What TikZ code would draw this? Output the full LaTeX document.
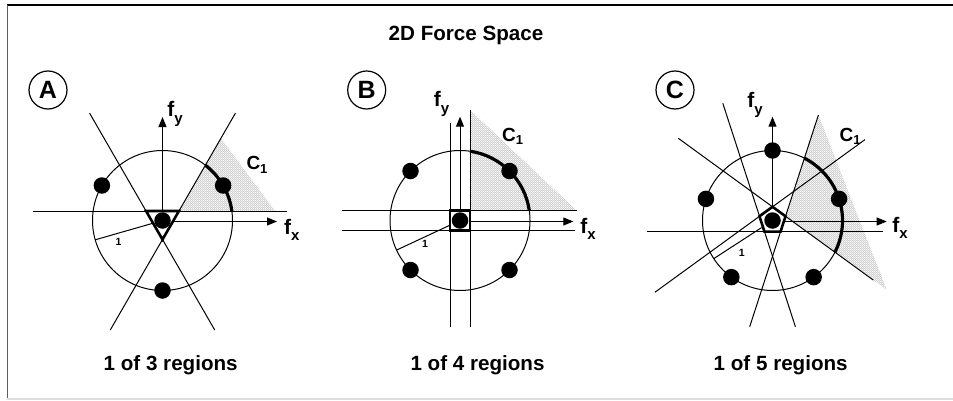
\documentclass[tikz,border=0pt]{standalone}
\usepackage{fontspec}
\setmainfont{Liberation Sans}
\usetikzlibrary{arrows.meta,patterns.meta}
\newcommand{\lowsub}[1]{\raisebox{-6.5pt}{\fontsize{15}{15}\selectfont #1}}
\newcommand{\clowsub}[1]{\raisebox{-3.5pt}{\fontsize{13}{13}\selectfont #1}}
\tikzdeclarepattern{
  name=finehatch, type=uncolored,
  bounding box={(0pt,0pt) and (2.2pt,2.2pt)},
  tile size={(2.2pt,2.2pt)},
  code={\draw[line width=0.55pt] (-0.3pt,2.5pt) -- (2.5pt,-0.3pt);}
}
\tikzset{
  thinln/.style={line width=1pt},
  dot/.style={circle, fill=black, inner sep=0pt, minimum size=16.5pt},
  bigcirc/.style={circle, draw, line width=1pt, inner sep=0pt, minimum size=140pt},
  arcln/.style={line width=3.2pt},
  core/.style={line width=2.6pt, fill=white, line join=miter},
  axis/.style={line width=1pt, -{Triangle[length=10pt,width=8pt]}},
  hatchfill/.style={pattern=finehatch, pattern color=gray!75},
  axlbl/.style={font=\bfseries\fontsize{21}{24}\selectfont, inner sep=0pt},
  clbl/.style={font=\bfseries\fontsize{19}{22}\selectfont, inner sep=0pt},
  onelbl/.style={font=\bfseries\fontsize{10.5}{12}\selectfont, inner sep=0pt},
  panel/.style={circle, draw, line width=1.2pt, minimum size=38pt, inner sep=0pt, font=\bfseries\fontsize{25}{28}\selectfont},
  caption/.style={font=\bfseries\fontsize{20.6}{24}\selectfont, anchor=base, inner sep=0pt},
}
\begin{document}
\begin{tikzpicture}[x=1pt,y=1pt]
\useasboundingbox (0,0) rectangle (953,400);
% frame
\coordinate (fTL) at (7.3,395);
\coordinate (fTR) at (953,395);
\coordinate (fBL) at (7.3,1);
\coordinate (fBR) at (953,1);
\draw[line width=1.5pt] (fTL) -- (fTR);
\draw[line width=1.5pt, gray!75!black] (fTL) -- (fBL);
\draw[line width=1.5pt, gray!25] (fBL) -- (fBR);

\node[caption] (title) at (466,359.3) {2D Force Space};

% ================= Panel A =================
\node[panel] (pA) at (48,310) {A};
\begin{scope}[shift={(162.5,179.5)}]
  \coordinate (aO) at (0,0);
  \coordinate (aV1) at (-16.45,9.5);
  \coordinate (aV2) at (16.45,9.5);
  \coordinate (aV3) at (0,-19);
  \coordinate (aS1) at (58.4,82.2);
  \coordinate (aS2) at (112.5,9.5);
  \fill[hatchfill] (aV2) -- (aS1) -- (aS2) -- cycle;
  \coordinate (aL1a) at (-72.95,107.4); \coordinate (aL1b) at (52.25,-109.5);
  \coordinate (aL2a) at (72.95,107.4);  \coordinate (aL2b) at (-52.25,-109.5);
  \coordinate (aL3a) at (-129.5,9.5);   \coordinate (aL3b) at (124.5,9.5);
  \draw[thinln] (aL1a) -- (aL1b);
  \draw[thinln] (aL2a) -- (aL2b);
  \draw[thinln] (aL3a) -- (aL3b);
  \node[bigcirc] (aC) at (aO) {};
  \coordinate (aYT) at (0,103.5);
  \coordinate (aXS) at (0,-1);
  \coordinate (aXT) at (114.5,-1);
  \draw[axis] (aO) -- (aYT);
  \draw[axis] (aXS) -- (aXT);
  \coordinate (aA1) at (52.2:70);
  \draw[arcln] (aA1) arc[start angle=52.2, end angle=7.8, radius=70];
  \coordinate (aR0) at (196:6);
  \coordinate (aR1) at (196:70);
  \draw[thinln] (aR0) -- (aR1);
  \draw[core] (aV1) -- (aV2) -- (aV3) -- cycle;
  \node[dot] (ad0) at (aO) {};
  \node[dot] (ad1) at (150:70) {};
  \node[dot] (ad2) at (30:70) {};
  \node[dot] (ad3) at (270:70) {};
  \node[onelbl] (a1) at (-44,-21) {1};
  \node[axlbl] (afy) at (12.5,106.5) {f\lowsub{y}};
  \node[axlbl] (afx) at (129.2,-9.5) {f\lowsub{x}};
  \node[clbl] (aC1) at (94.5,55.5) {C\clowsub{1}};
\end{scope}
\node[caption] (capA) at (170.7,29.3) {1 of 3 regions};

% ================= Panel B =================
\node[panel] (pB) at (366.7,310) {B};
\begin{scope}[shift={(460,179.5)}]
  \coordinate (bO) at (0,0);
  \coordinate (bQ1) at (-10,10);
  \coordinate (bQ2) at (10,10);
  \coordinate (bQ3) at (10,-10);
  \coordinate (bQ4) at (-10,-10);
  \coordinate (bS1) at (10,110.5);
  \coordinate (bS2) at (116.5,10);
  \fill[hatchfill] (bQ2) -- (bS1) -- (bS2) -- cycle;
  \coordinate (bL1a) at (-10,97.5);  \coordinate (bL1b) at (-10,-106.5);
  \coordinate (bL2a) at (10,110.5);  \coordinate (bL2b) at (10,-106.5);
  \coordinate (bL3a) at (-118,10);   \coordinate (bL3b) at (116.5,10);
  \coordinate (bL4a) at (-118,-10);  \coordinate (bL4b) at (115,-10);
  \draw[thinln] (bL1a) -- (bL1b);
  \draw[thinln] (bL2a) -- (bL2b);
  \draw[thinln] (bL3a) -- (bL3b);
  \draw[thinln] (bL4a) -- (bL4b);
  \node[bigcirc] (bC) at (bO) {};
  \coordinate (bYT) at (0,103.8);
  \coordinate (bXS) at (0,-1);
  \coordinate (bXT) at (113.3,-1);
  \draw[axis] (bO) -- (bYT);
  \draw[axis] (bXS) -- (bXT);
  \coordinate (bA1) at (81.8:70);
  \draw[arcln] (bA1) arc[start angle=81.8, end angle=8.2, radius=70];
  \coordinate (bR0) at (205:11);
  \coordinate (bR1) at (205:70);
  \draw[thinln] (bR0) -- (bR1);
  \draw[core] (bQ1) -- (bQ2) -- (bQ3) -- (bQ4) -- cycle;
  \node[dot] (bd0) at (bO) {};
  \node[dot] (bd1) at (45:70) {};
  \node[dot] (bd2) at (135:70) {};
  \node[dot] (bd3) at (225:70) {};
  \node[dot] (bd4) at (315:70) {};
  \node[onelbl] (b1) at (-35,-23.8) {1};
  \node[axlbl] (bfy) at (-18.5,116.5) {f\lowsub{y}};
  \node[axlbl] (bfx) at (128,-8.5) {f\lowsub{x}};
  \node[clbl] (bC1) at (52.5,84) {C\clowsub{1}};
\end{scope}
\node[caption] (capB) at (477.5,29.3) {1 of 4 regions};

% ================= Panel C =================
\node[panel] (pC) at (675,310) {C};
\begin{scope}[shift={(772.5,179.5)}]
  \coordinate (cO) at (0,0);
  \coordinate (cV0) at (0,13.7);
  \coordinate (cV1) at (-13.03,4.23);
  \coordinate (cV2) at (-8.05,-11.08);
  \coordinate (cV3) at (8.05,-11.08);
  \coordinate (cV4) at (13.03,4.23);
  \coordinate (cS1) at (45.9,105.5);
  \coordinate (cS2) at (114.2,-69.3);
  \fill[hatchfill] (cV4) -- (cS1) -- (cS2) -- cycle;
  % edge V4V0 extended
  \coordinate (cLAa) at (-94.2,82.2);   \coordinate (cLAb) at (100.8,-59.6);
  % edge V0V1 extended
  \coordinate (cLBa) at (-117.5,-71.7); \coordinate (cLBb) at (92.5,80.9);
  % edge V1V2 extended
  \coordinate (cLCa) at (-49.7,117.2);  \coordinate (cLCb) at (22.9,-106.2);
  % edge V3V4 extended
  \coordinate (cLDa) at (45.9,105.5);   \coordinate (cLDb) at (-22.8,-106.2);
  % edge V2V3 extended
  \coordinate (cLEa) at (-125.8,-11.08); \coordinate (cLEb) at (110.8,-11.08);
  \draw[thinln] (cLAa) -- (cLAb);
  \draw[thinln] (cLBa) -- (cLBb);
  \draw[thinln] (cLCa) -- (cLCb);
  \draw[thinln] (cLDa) -- (cLDb);
  \draw[thinln] (cLEa) -- (cLEb);
  \node[bigcirc] (cC) at (cO) {};
  \coordinate (cYT) at (0,103.8);
  \coordinate (cXS) at (0,-1);
  \coordinate (cXT) at (114.2,-1);
  \draw[axis] (cO) -- (cYT);
  \draw[axis] (cXS) -- (cXT);
  \coordinate (cA1) at (62.9:70);
  \draw[arcln] (cA1) arc[start angle=62.9, end angle=-26.9, radius=70];
  \coordinate (cR0) at (213:13);
  \coordinate (cR1) at (213:70);
  \draw[thinln] (cR0) -- (cR1);
  \draw[core] (cV0) -- (cV1) -- (cV2) -- (cV3) -- (cV4) -- cycle;
  \node[dot] (cd0) at (cO) {};
  \node[dot] (cd1) at (90:70) {};
  \node[dot] (cd2) at (162:70) {};
  \node[dot] (cd3) at (18:70) {};
  \node[dot] (cd4) at (234:70) {};
  \node[dot] (cd5) at (306:70) {};
  \node[onelbl] (c1) at (-30.8,-32.2) {1};
  \node[axlbl] (cfy) at (-17.5,115.5) {f\lowsub{y}};
  \node[axlbl] (cfx) at (127.5,-7.5) {f\lowsub{x}};
  \node[clbl] (cC1) at (77.5,84) {C\clowsub{1}};
\end{scope}
\node[caption] (capC) at (780.7,29.3) {1 of 5 regions};
\end{tikzpicture}
\end{document}
